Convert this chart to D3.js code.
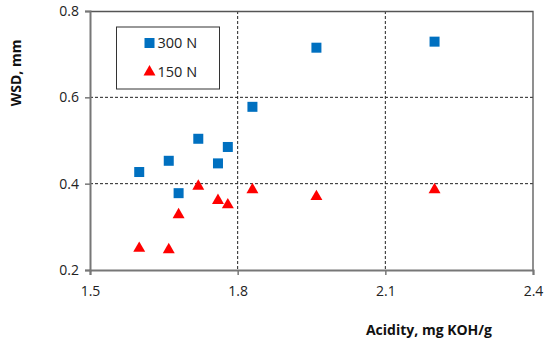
<!DOCTYPE html>
<meta charset="utf-8">
<script src="https://d3js.org/d3.v7.min.js"></script>
<style>
body { margin: 0; font-family: "Open Sans", Arial, sans-serif; background: #fff; }
.tick text { font-size: 14px; fill: #222; }
.title { font-size: 14px; font-weight: bold; fill: #111; }
</style>
<body>
<svg id="chart" width="550" height="346"></svg>
<script>
// acidity (mg KOH/g) vs wear scar diameter (mm)
var acidity300 = [1.60, 1.66, 1.68, 1.72, 1.76, 1.78, 1.83, 1.96, 2.20];
var wsd300     = [0.427, 0.453, 0.378, 0.504, 0.447, 0.485, 0.578, 0.715, 0.729];
var acidity150 = [1.60, 1.66, 1.68, 1.72, 1.76, 1.78, 1.83, 1.96, 2.20];
var wsd150     = [0.250, 0.247, 0.328, 0.394, 0.361, 0.351, 0.386, 0.370, 0.386];
var xTicks = [1.5, 1.8, 2.1, 2.4];
var yTicks = [0.2, 0.4, 0.6, 0.8];
var seriesNames = ["300 N", "150 N"];

var svg = d3.select("#chart"),
    margin = {top: 11, right: 17, bottom: 76, left: 90},
    width = +svg.attr("width") - margin.left - margin.right,
    height = +svg.attr("height") - margin.top - margin.bottom;

var x = d3.scaleLinear().domain([1.5, 2.4]).range([0, width]);
var y = d3.scaleLinear().domain([0.2, 0.8]).range([height, 0]);

var g = svg.append("g").attr("transform", "translate(" + margin.left + "," + margin.top + ")");

// dashed grid
g.selectAll(".hgrid")
    .data(yTicks.slice(1, -1))
  .enter().append("line")
    .attr("x1", 0).attr("x2", width)
    .attr("y1", function(d) { return y(d); })
    .attr("y2", function(d) { return y(d); })
    .attr("stroke", "#222").attr("stroke-width", 1)
    .attr("stroke-dasharray", "3,2");
g.selectAll(".vgrid")
    .data(xTicks.slice(1, -1))
  .enter().append("line")
    .attr("y1", 0).attr("y2", height)
    .attr("x1", function(d) { return x(d); })
    .attr("x2", function(d) { return x(d); })
    .attr("stroke", "#222").attr("stroke-width", 1)
    .attr("stroke-dasharray", "3,2");

// plot border (top / right)
g.append("path")
    .attr("d", "M0,0.5H" + width + "V" + height)
    .attr("fill", "none").attr("stroke", "#555").attr("stroke-width", 1.3);

var xAxis = g.append("g")
    .attr("transform", "translate(0," + height + ")")
    .call(d3.axisBottom(x).tickValues(xTicks).tickSize(5).tickPadding(8).tickFormat(d3.format(".1f")));
var yAxis = g.append("g")
    .call(d3.axisLeft(y).tickValues(yTicks).tickSize(5).tickPadding(6).tickFormat(d3.format(".1f")));
[xAxis, yAxis].forEach(function(a) {
  a.select(".domain").attr("stroke", "#777").attr("stroke-width", 2);
  a.selectAll(".tick line").attr("stroke", "#777").attr("stroke-width", 1.5);
  a.attr("font-family", null);
});
xAxis.selectAll(".tick text").attr("dy", "0.9em");

// markers
var squares = acidity300.map(function(a, i) { return [a, wsd300[i]]; });
var triangles = acidity150.map(function(a, i) { return [a, wsd150[i]]; });

g.selectAll(".sq")
    .data(squares)
  .enter().append("rect")
    .attr("x", function(d) { return x(d[0]) - 5; })
    .attr("y", function(d) { return y(d[1]) - 5; })
    .attr("width", 10).attr("height", 10)
    .attr("fill", "#0070C0");

var tri = d3.symbol().type(d3.symbolTriangle).size(62);
g.selectAll(".tri")
    .data(triangles)
  .enter().append("path")
    .attr("d", tri)
    .attr("transform", function(d) { return "translate(" + x(d[0]) + "," + y(d[1]) + ")"; })
    .attr("fill", "#FF0000");

// legend
var lg = svg.append("g").attr("transform", "translate(116.5,27)");
lg.append("rect").attr("width", 103).attr("height", 62)
    .attr("fill", "#fff").attr("stroke", "#333").attr("stroke-width", 1);
lg.append("rect").attr("x", 28).attr("y", 11).attr("width", 10).attr("height", 10).attr("fill", "#0070C0");
lg.append("path").attr("d", tri).attr("transform", "translate(33,45)").attr("fill", "#FF0000");
lg.selectAll(".lt")
    .data(seriesNames)
  .enter().append("text")
    .attr("x", 41)
    .attr("y", function(d, i) { return 16 + i * 29; })
    .attr("dy", "0.35em")
    .style("font-size", "14.5px")
    .attr("fill", "#222")
    .text(function(d) { return d; });

// axis titles
svg.append("text")
    .attr("class", "title")
    .attr("transform", "translate(21," + (margin.top + 62) + ") rotate(-90)")
    .attr("text-anchor", "middle")
    .text("WSD, mm");
svg.append("text")
    .attr("class", "title")
    .attr("x", 429).attr("y", 335)
    .attr("text-anchor", "middle")
    .text("Acidity, mg KOH/g");
</script>
</body>
